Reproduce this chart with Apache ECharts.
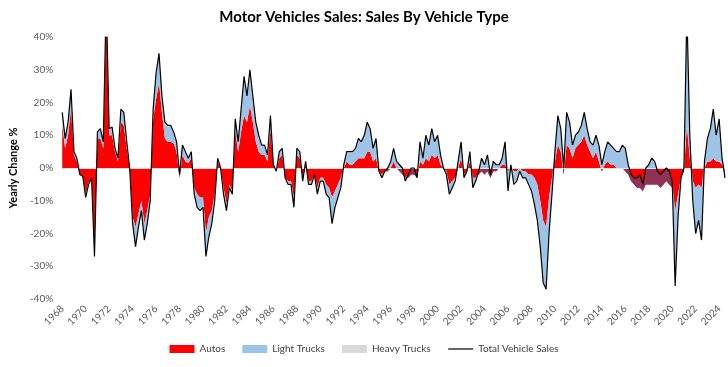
<!DOCTYPE html>
<html><head><meta charset="utf-8">
<script src="https://cdn.jsdelivr.net/npm/echarts@6/dist/echarts.min.js"></script>
<style>html,body{margin:0;padding:0;background:#fff}#c{width:728px;height:367px}</style>
</head><body><div id="c"></div>
<script>
// Quarterly observations starting 1968 Q1
const startYear = 1968;
const periodsPerYear = 4;

// Yearly change, % (contribution to total)
const autos = [
13,6,10,18, 4,2,-2,-2.5, -8,-4.5,-3,-25, 9,9,6,48, 10,10,5,2, 14,13,6,0,
-15,-18,-14,-10, -17,-13,-8,15, 21,26,17,9, 8,8,7.5,5, -3,4,2,1.5, 3,-6,-8,-9,
-9,-20,-15,-13, -8,2,0,-6, -11,-5,-7,11, 5,11,16,14, 19,14,8,5, 4,4,2,12,
1,-1,3,4, -3,-4,-4,-9, 4,3,-3,1, -4,-4,-2,-6, -3,-3,-5,-6, -9,-7,-5,-3,
0,2,1,1, 2,3,3,3, 5,5,2,3, -1,-2,-1,-1, 0,2,0,-1, -2,-3,-3,-2,
-2,-3,2,1, 3,2,4,3, 4,1,0,-1, -5,-4,-3,0, 3,-2,-1,2, -3,-3,-2,-1,
-2,-1,-3,-1, -1,0,1,1, -1,0,-1,-1, 0,-1,-1,-2, -2,-3,-5,-10, -16,-18,-9,-3,
2,7,5,-2, 7,6,3,6, 7,8,10,7, 5,3,5,2, -1,1,2,1, 1,0,0,0,
-1,-2,-4,-5, -6,-6,-7,-5, -5,-5,-5,-5, -6,-5,-4,-5, -6,-13,-8,-3, -1,13,3,-4,
-6,-5,-6,0, 2,2,3,2, 2,1,-1
];
const lightTrucks = [
3.7,2.7,3.7,5.7, 0.7,1,0,0, -0.7,-0.2,0,-1.7, 1.7,2.7,1.7,3.7, 1.7,2.2,0.7,1, 3.7,3.7,1.7,0,
-1.7,-5.7,-3.7,-2.7, -4.7,-3.7,-1.7,2.7, 7.7,8.7,4.7,4.7, 4.7,4.7,3.2,2.7, 1,2.7,2.7,1.5, 1.7,-1.7,-3.7,-3.7,
-2.7,-6.7,-5.7,-3.7, -1.7,1,0,-1.7, -1.7,-0.7,-0.7,3.7, 2.7,6.7,11.7,7.7, 10.7,7.7,5.7,4.7, 2.7,2.7,1.7,3.7,
0,0,1.7,1.7, 0,-0.7,-0.7,-2.7, 1.7,1.7,-0.7,1, -0.7,-0.7,0,-1.7, -0.7,-0.7,-2.7,-2.7, -7.7,-4.7,-3.7,-2.7,
1,2.7,3.7,3.7, 3.7,5.7,4.7,6.7, 8.7,6.7,3.7,5.7, 0,-1,0,1, 2,3.7,2,2, 2,-0.7,1,2,
2,0,5.7,2, 6.7,4.7,7.7,4.7, 5.7,2.7,0,-1, -2.7,-1.7,-0.7,2, 4.7,-1,0,2.7, -2.7,-0.7,1,4,
3,4.7,1,3, 2,1,2,6.7, -5.7,1,-3.7,-2.7, -1,-2,-2,-2.7, -4.7,-7.7,-10.7,-13.7, -18.7,-18.7,-10.7,-4.7,
2.7,8.7,6.7,2, 9.7,7.7,3.7,3.7, 3.7,4.7,6.7,4.7, 2.7,3.7,4.7,4.7, 2,3.7,5.7,5.7, 4.7,4.7,4.7,6.7,
6.7,3,2,2, 3,4,2.3,5, 6,8,7,4, 4,4,4,4, 2.3,-22.7,-6.7,0, 1,34.7,6.7,-5.7,
-13.7,-10.7,-15.7,2, 6.7,9.7,14.7,7.7, 12.7,2,-2
];
const heavyTrucks = [
0.3,0.3,0.3,0.3, 0.3,0,0,0, -0.3,-0.3,0,-0.3, 0.3,0.3,0.3,0.3, 0.3,0.3,0.3,0, 0.3,0.3,0.3,0,
-0.3,-0.3,-0.3,-0.3, -0.3,-0.3,-0.3,0.3, 0.3,0.3,0.3,0.3, 0.3,0.3,0.3,0.3, 0,0.3,0.3,0, 0.3,-0.3,-0.3,-0.3,
-0.3,-0.3,-0.3,-0.3, -0.3,0,0,-0.3, -0.3,-0.3,-0.3,0.3, 0.3,0.3,0.3,0.3, 0.3,0.3,0.3,0.3, 0.3,0.3,0.3,0.3,
0,0,0.3,0.3, 0,-0.3,-0.3,-0.3, 0.3,0.3,-0.3,0, -0.3,-0.3,0,-0.3, -0.3,-0.3,-0.3,-0.3, -0.3,-0.3,-0.3,-0.3,
0,0.3,0.3,0.3, 0.3,0.3,0.3,0.3, 0.3,0.3,0.3,0.3, 0,0,0,0, 0,0.3,0,0, 0,-0.3,0,0,
0,0,0.3,0, 0.3,0.3,0.3,0.3, 0.3,0.3,0,0, -0.3,-0.3,-0.3,0, 0.3,0,0,0.3, -0.3,-0.3,0,0,
0,0.3,0,0, 0,0,0,0.3, -0.3,0,-0.3,-0.3, 0,0,0,-0.3, -0.3,-0.3,-0.3,-0.3, -0.3,-0.3,-0.3,-0.3,
0.3,0.3,0.3,0, 0.3,0.3,0.3,0.3, 0.3,0.3,0.3,0.3, 0.3,0.3,0.3,0.3, 0,0.3,0.3,0.3, 0.3,0.3,0.3,0.3,
0.3,0,0,0, 0,0,-0.3,0, 0,0,0,0, 0,0,0,0, -0.3,-0.3,-0.3,0, 0,0.3,0.3,-0.3,
-0.3,-0.3,-0.3,0, 0.3,0.3,0.3,0.3, 0.3,0,0
];
const totalSales = [
17,9,14,24, 5,3,-2,-2.5, -9,-5,-3,-27, 11,12,8,52, 12,12.5,6,3, 18,17,8,0,
-17,-24,-18,-13, -22,-17,-10,18, 29,35,22,14, 13,13,11,8, -2,7,5,3, 5,-8,-12,-13,
-12,-27,-21,-17, -10,3,0,-8, -13,-6,-8,15, 8,18,28,22, 30,22,14,10, 7,7,4,16,
1,-1,5,6, -3,-5,-5,-12, 6,5,-4,2, -5,-5,-2,-8, -4,-4,-8,-9, -17,-12,-9,-6,
1,5,5,5, 6,9,8,10, 14,12,6,9, -1,-3,-1,0, 2,6,2,1, 0,-4,-2,0,
0,-3,8,3, 10,7,12,8, 10,4,0,-2, -8,-6,-4,2, 8,-3,-1,5, -6,-4,-1,3,
1,4,-2,2, 1,1,3,8, -7,1,-5,-4, -1,-3,-3,-5, -7,-11,-16,-24, -35,-37,-20,-8,
5,16,12,0, 17,14,7,10, 11,13,17,12, 8,7,10,7, 1,5,8,7, 6,5,5,7,
6,1,-2,-3, -3,-2,-5,0, 1,3,2,-1, -2,-1,0,-1, -4,-36,-15,-3, 0,48,10,-10,
-20,-16,-22,2, 9,12,18,10, 15,3,-3
];

const dates = totalSales.map((_, i) => String(startYear + i / periodsPerYear));
// Light-truck contributions split by sign so that gains stacked over falling autos
// can be shaded the way the original chart shows them.
const ltNeg = lightTrucks.map(v => Math.min(v, 0));
const ltPos = lightTrucks.map(v => Math.max(v, 0));

const FONT = 'Lato, "Open Sans", sans-serif';
const chart = echarts.init(document.getElementById('c'), null, {renderer: 'canvas'});
const gTop = 37, gBottom = 68, H = 367;
const ltPosFill = new echarts.graphic.LinearGradient(0, gTop, 0, H - gBottom, [
  {offset: 0, color: '#9dc3e6'}, {offset: 0.5, color: '#9dc3e6'},
  {offset: 0.5, color: '#8f3256'}, {offset: 1, color: '#8f3256'}
], true);
const ltNegFill = new echarts.graphic.LinearGradient(0, gTop, 0, H - gBottom, [
  {offset: 0, color: '#9dc3e6'}, {offset: 1, color: '#9dc3e6'}
], true);

const areaSeries = (id, name, data, color, fill) => ({
  id, name, type: 'line', data: data, stack: 'total', stackStrategy: 'all',
  symbol: 'none', lineStyle: {width: 0},
  itemStyle: {color: color}, areaStyle: {color: fill || color, opacity: 1}, animation: false
});

chart.setOption({
  animation: false,
  title: {text: 'Motor Vehicles Sales: Sales By Vehicle Type', left: 'center', top: 5,
    textStyle: {fontFamily: FONT, fontSize: 15, fontWeight: 'bold', color: '#000'}},
  grid: {left: 59, right: 3, top: gTop, bottom: gBottom},
  legend: {bottom: 8, left: 'center', itemWidth: 25, itemHeight: 8, itemGap: 17,
    textStyle: {fontFamily: FONT, fontSize: 10, color: '#404040'},
    data: [
      {name: 'Autos', icon: 'rect', itemStyle: {color: '#ff0000'}},
      {name: 'Light Trucks', icon: 'rect', itemStyle: {color: '#9dc3e6'}},
      {name: 'Heavy Trucks', icon: 'rect', itemStyle: {color: '#d9d9d9'}},
      {name: 'Total Vehicle Sales', itemStyle: {color: 'rgba(0,0,0,0)', borderWidth: 0, opacity: 0},
        lineStyle: {color: '#000', width: 1.2}}
    ]},
  xAxis: {type: 'category', data: dates, boundaryGap: false,
    axisLine: {show: false}, axisTick: {show: false}, splitLine: {show: false},
    axisLabel: {rotate: 45, fontFamily: FONT, fontSize: 10, color: '#595959', margin: 8,
      interval: (idx, v) => Number.isInteger(+v) && (+v) % 2 === 0}},
  yAxis: {type: 'value', min: -40, max: 40, interval: 10,
    name: 'Yearly Change %', nameLocation: 'middle', nameGap: 40,
    nameTextStyle: {fontFamily: FONT, fontSize: 11, fontWeight: 'bold', color: '#000'},
    axisLine: {show: false}, axisTick: {show: false}, splitLine: {show: false},
    axisLabel: {fontFamily: FONT, fontSize: 10, color: '#595959', margin: 9,
      formatter: v => v + '%'}},
  series: [
    areaSeries('autos', 'Autos', autos, '#ff0000'),
    areaSeries('ltPos', 'Light Trucks', ltPos, '#9dc3e6', ltPosFill),
    areaSeries('ltNeg', 'Light Trucks (decline)', ltNeg, '#9dc3e6', ltNegFill),
    areaSeries('heavy', 'Heavy Trucks', heavyTrucks, '#d9d9d9'),
    {id: 'total', name: 'Total Vehicle Sales', type: 'line', data: totalSales, symbol: 'none',
      itemStyle: {color: '#000'}, lineStyle: {color: '#000', width: 1.2}, z: 5, animation: false,
      markLine: {silent: true, symbol: 'none', label: {show: false}, animation: false,
        lineStyle: {color: '#e3e3e3', width: 1, type: 'solid'}, data: [{yAxis: 0}]}}
  ]
});
</script></body></html>
